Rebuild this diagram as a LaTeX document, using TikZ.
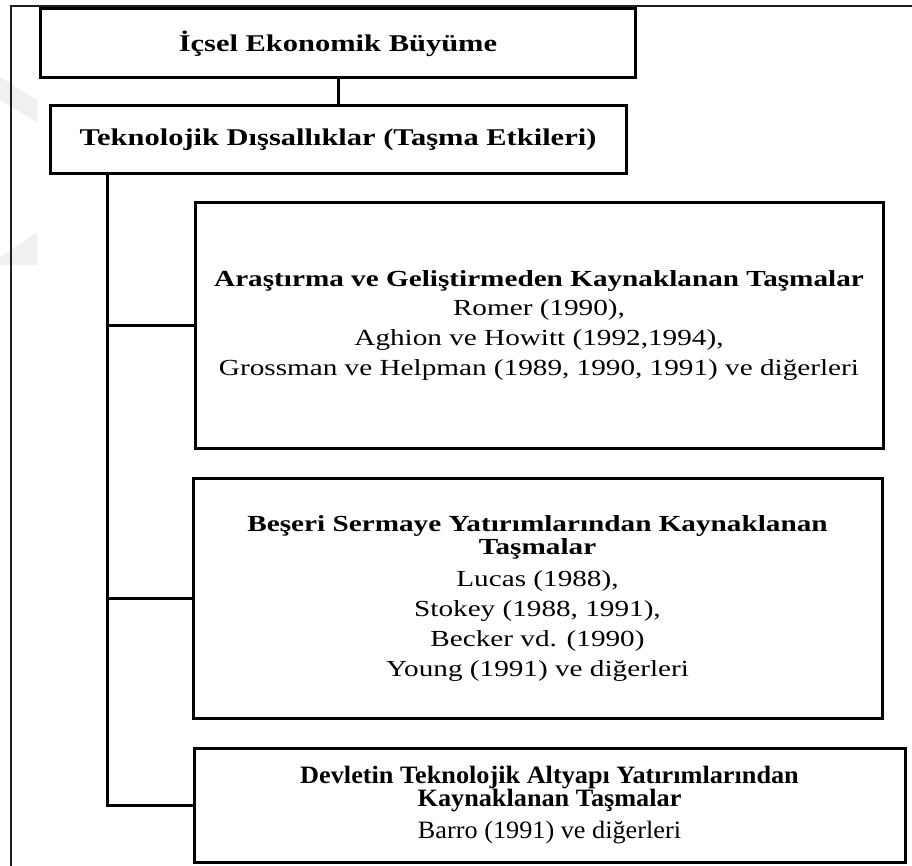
\documentclass[tikz,border=0pt]{standalone}
\usepackage{fontspec}
\setmainfont{Liberation Serif}[FakeStretch=1.27]
\newfontfamily\tallserif{Liberation Serif}[FakeStretch=1.05]
\begin{document}
\begin{tikzpicture}[x=1pt,y=-1pt,
  box/.style={draw=black,line width=3pt,rectangle,inner sep=0pt,align=center,
    font=\fontsize{23}{23}\selectfont},
  headbox/.style={box,font=\fontsize{24}{24}\selectfont\bfseries},
  link/.style={draw=black,line width=3pt},
  frameline/.style={draw=black!88,line width=1.6pt}]
\useasboundingbox (0,0) rectangle (912,866);
\fill[white] (0,0) rectangle (912,866);
% faint background shapes on the left edge
\fill[black!6] (0,77) -- (37,100) -- (37,122) -- (0,100) -- cycle;
\fill[black!6] (37,232) -- (37,265) -- (0,265) -- (0,257) -- cycle;
% outer frame
\draw[frameline] (11,866) -- (11,6) -- (912,6);

\node[headbox,minimum width=595pt,minimum height=69pt] (b1) at (338,43.5)
  {İçsel Ekonomik Büyüme};
\node[headbox,minimum width=576pt,minimum height=68pt] (b2) at (338,140)
  {Teknolojik Dışsallıklar (Taşma Etkileri)};
\node[box,minimum width=688pt,minimum height=245pt] (b3) at (539,325.5)
  {\bfseries Araştırma ve Geliştirmeden Kaynaklanan Taşmalar\\[6pt]
   Romer (1990),\\[7pt]
   Aghion ve Howitt (1992,1994),\\[7pt]
   Grossman ve Helpman (1989, 1990, 1991) ve diğerleri};
\node[box,minimum width=689pt,minimum height=240pt] (b4) at (537.5,598)
  {\bfseries Beşeri Sermaye Yatırımlarından Kaynaklanan\\
   \bfseries Taşmalar\\[9pt]
   Lucas (1988),\\[7pt]
   Stokey (1988, 1991),\\[7pt]
   Becker vd. (1990)\\[7pt]
   Young (1991) ve diğerleri};
\node[box,minimum width=711pt,minimum height=114pt,
      font=\fontsize{25}{23}\selectfont\tallserif] (b5) at (549.5,805)
  {\bfseries Devletin Teknolojik Altyapı Yatırımlarından\\
   \bfseries Kaynaklanan Taşmalar\\[9pt]
   Barro (1991) ve diğerleri};

\coordinate (t) at (107,0);
\draw[link] (b1.south) -- (b2.north);
\draw[link] (b2.south -| t) |- (b5.west);
\draw[link] (t |- b3.west) -- (b3.west);
\draw[link] (t |- b4.west) -- (b4.west);
\end{tikzpicture}
\end{document}
